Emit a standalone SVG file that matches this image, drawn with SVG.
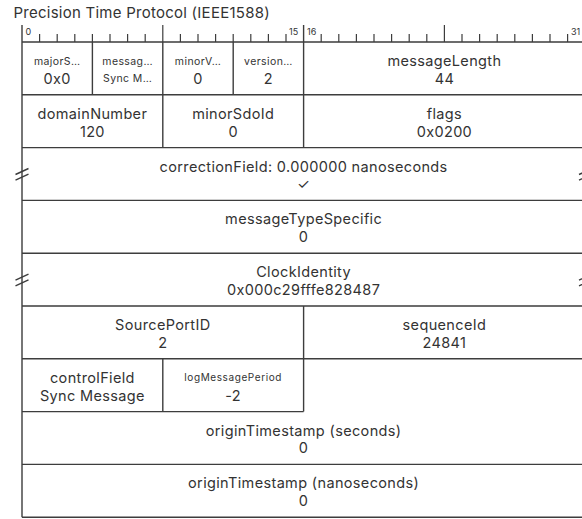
<svg xmlns="http://www.w3.org/2000/svg" width="582" height="519" viewBox="0 0 582 519">
<style>
text{font-family:Inter,"Liberation Sans",sans-serif;fill:#333;text-anchor:middle}
.t{font-size:14.5px;letter-spacing:0.35px}
.s{font-size:10.5px;letter-spacing:0.4px}
.xs{font-size:10px;letter-spacing:0.6px}
.bit{font-size:9px;text-anchor:start}
.title{font-size:15px;letter-spacing:0.25px;text-anchor:start}
.g{stroke:#3d3d3d;stroke-width:1.4;fill:none}
.tk{stroke:#3d3d3d;stroke-width:1.2;fill:none}
</style>
<rect width="582" height="519" fill="#fff"/>
<text class="title" x="13.5" y="17.5">Precision Time Protocol (IEEE1588)</text>
<g id="ruler">
<path class="tk" d="M39.6 34V42M57.2 34V42M74.8 34V42M92.4 34V42M110 34V42M127.6 34V42M145.2 34V42M180.4 34V42M198 34V42M215.6 34V42M233.2 34V42M250.8 34V42M268.4 34V42M286 34V42M321.2 34V42M338.8 34V42M356.4 34V42M374 34V42M391.6 34V42M409.2 34V42M426.8 34V42M462 34V42M479.6 34V42M497.2 34V42M514.8 34V42M532.4 34V42M550 34V42M567.6 34V42"/>
<path class="tk" d="M162.8 25V42M444.4 25V42"/>
<text class="bit" x="25.5" y="35">0</text>
<text class="bit" x="289" y="35">15</text>
<text class="bit" x="307" y="35">16</text>
<text class="bit" x="571" y="35">31</text>
</g>
<g id="grid">
<path class="g" d="M22 42H586M22 25V517.2M585.2 42V517.2M22 94.8H586M22 147.6H586M22 200.4H586M22 253.2H586M22 306H586M22 358.8H586M22 411.6H303.6M22 464.4H586M22 517.2H586"/>
<path class="g" d="M92.4 42V94.8M162.8 42V147.6M233.2 42V94.8M303.6 25V147.6M303.6 306V411.6M162.8 358.8V411.6"/>
<path class="g" d="M15.5 174.5L28.5 168.5M15.5 180.2L28.5 174.2M579 174.5L592 168.5M579 180.2L592 174.2M15.5 280.1L28.5 274.1M15.5 285.8L28.5 279.8M579 280.1L592 274.1M579 285.8L592 279.8"/>
</g>
<g id="majorSdoId"><text class="s" x="57.2" y="65">majorS…</text><text class="t" x="57.2" y="83.5">0x0</text></g>
<g id="messageType"><text class="s" x="127.6" y="65">messag…</text><text class="s" x="127.6" y="82">Sync M…</text></g>
<g id="minorVersionPTP"><text class="s" x="198" y="65">minorV…</text><text class="t" x="198" y="83.5">0</text></g>
<g id="versionPTP"><text class="s" x="268.4" y="65">version…</text><text class="t" x="268.4" y="83.5">2</text></g>
<g id="messageLength"><text class="t" x="444.4" y="66">messageLength</text><text class="t" x="444.4" y="83.5">44</text></g>
<g id="domainNumber"><text class="t" x="92.4" y="118.8">domainNumber</text><text class="t" x="92.4" y="136.5">120</text></g>
<g id="minorSdoId"><text class="t" x="233.2" y="118.8">minorSdoId</text><text class="t" x="233.2" y="136.5">0</text></g>
<g id="flags"><text class="t" x="444.4" y="118.8">flags</text><text class="t" x="444.4" y="136.5">0x0200</text></g>
<g id="correctionField"><text class="t" x="303.6" y="171.6">correctionField: 0.000000 nanoseconds</text><text class="t" x="303.6" y="189.3">✓</text></g>
<g id="messageTypeSpecific"><text class="t" x="303.6" y="224.4">messageTypeSpecific</text><text class="t" x="303.6" y="242.1">0</text></g>
<g id="ClockIdentity"><text class="t" x="303.6" y="277.2">ClockIdentity</text><text class="t" x="303.6" y="294.9">0x000c29fffe828487</text></g>
<g id="SourcePortID"><text class="t" x="162.8" y="330">SourcePortID</text><text class="t" x="162.8" y="347.7">2</text></g>
<g id="sequenceId"><text class="t" x="444.4" y="330">sequenceId</text><text class="t" x="444.4" y="347.7">24841</text></g>
<g id="controlField"><text class="t" x="92.4" y="382.8">controlField</text><text class="t" x="92.4" y="400.5">Sync Message</text></g>
<g id="logMessagePeriod"><text class="xs" x="233.2" y="380.5">logMessagePeriod</text><text class="t" x="233.2" y="400.5">-2</text></g>
<g id="originTimestampSeconds"><text class="t" x="303.6" y="435.6">originTimestamp (seconds)</text><text class="t" x="303.6" y="453.3">0</text></g>
<g id="originTimestampNanoseconds"><text class="t" x="303.6" y="488.4">originTimestamp (nanoseconds)</text><text class="t" x="303.6" y="506.1">0</text></g>
</svg>
